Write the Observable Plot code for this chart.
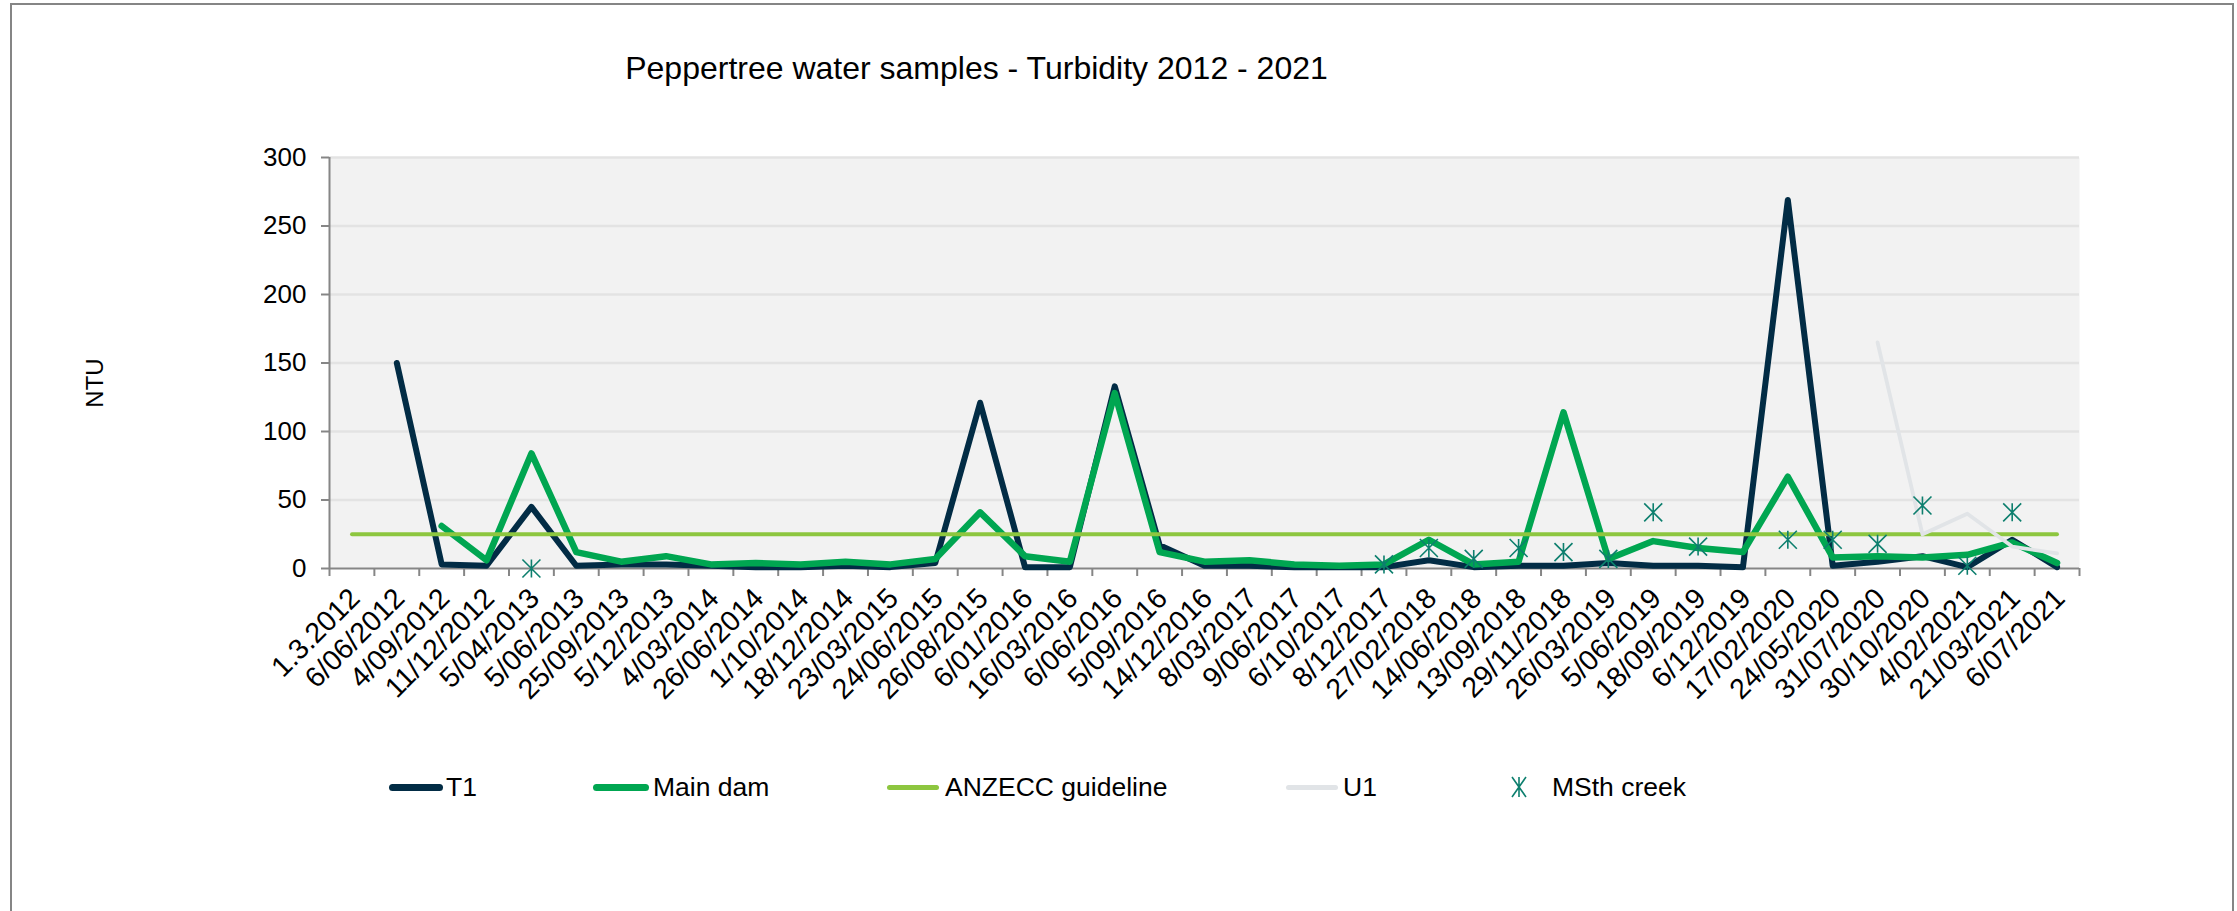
<!DOCTYPE html>
<html><head><meta charset="utf-8">
<script src="https://cdn.jsdelivr.net/npm/d3@7"></script>
<script src="https://cdn.jsdelivr.net/npm/@observablehq/plot@0.6"></script>
<style>
html,body{margin:0;padding:0;background:#fff;}
body{width:2237px;height:911px;overflow:hidden;font-family:"Liberation Sans",Arial,sans-serif;color:#000;}
#wrap{position:relative;width:2237px;height:911px;overflow:hidden;}
#border{position:absolute;left:10px;top:3px;width:2224px;height:1000px;border:2px solid #858585;box-sizing:border-box;}
#title{position:absolute;left:0;top:50px;width:1953px;text-align:center;font-size:32px;line-height:36px;white-space:nowrap;}
#ylab{position:absolute;left:95px;top:383px;transform:translate(-50%,-50%) rotate(-90deg);font-size:24px;line-height:28px;white-space:nowrap;}
#chart{position:absolute;left:0;top:130px;}
.sw{position:absolute;border-radius:4px;}
.lt{position:absolute;top:772px;height:30px;line-height:30px;font-size:26.5px;white-space:nowrap;}
.mk{position:absolute;}
</style></head>
<body>
<div id="wrap">
  <div id="border"></div>
  <div id="title">Peppertree water samples - Turbidity 2012 - 2021</div>
  <div id="ylab">NTU</div>
  <div id="chart"></div>
  <div id="legend"></div>
</div>
<script>
// ---- data ----
const dates = ["1.3.2012","6/06/2012","4/09/2012","11/12/2012","5/04/2013","5/06/2013","25/09/2013","5/12/2013","4/03/2014","26/06/2014","1/10/2014","18/12/2014","23/03/2015","24/06/2015","26/08/2015","6/01/2016","16/03/2016","6/06/2016","5/09/2016","14/12/2016","8/03/2017","9/06/2017","6/10/2017","8/12/2017","27/02/2018","14/06/2018","13/09/2018","29/11/2018","26/03/2019","5/06/2019","18/09/2019","6/12/2019","17/02/2020","24/05/2020","31/07/2020","30/10/2020","4/02/2021","21/03/2021","6/07/2021"];
const t1 = [null,150,3,2,45,2,3,3,2,1,1,2,1,4,121,1,1,133,17,2,2,1,1,1,6,1,2,2,4,2,2,1,269,2,5,9,1,21,1];
const mainDam = [null,null,31,6,84,12,5,9,3,4,3,5,3,7,41,9,5,128,12,5,6,3,2,3,21,3,5,114,7,20,15,12,67,8,9,8,10,19,4];
const anzeccGuideline = [25,25,25,25,25,25,25,25,25,25,25,25,25,25,25,25,25,25,25,25,25,25,25,25,25,25,25,25,25,25,25,25,25,25,25,25,25,25,25];
const u1 = [null,null,null,null,null,null,null,null,null,null,null,null,null,null,null,null,null,null,null,null,null,null,null,null,null,null,null,null,null,null,null,null,null,null,165,25,40,16,11];
const msthCreek = [null,null,null,null,0,null,null,null,null,null,null,null,null,null,null,null,null,null,null,null,null,null,null,3,15,7,15,12,7,41,16,null,21,21,18,46,2,41,null];
const seriesNames = ["T1","Main dam","ANZECC guideline","U1","MSth creek"];
const yTicks = [0,50,100,150,200,250,300];

// ---- styles ----
const colors = {"T1":"#022c45","Main dam":"#00a651","ANZECC guideline":"#8dc63f","U1":"#e1e4e7","MSth creek":"#0d7f6e"};
const widths = {"T1":6,"Main dam":6.5,"ANZECC guideline":3.8,"U1":3.8};

const toRows = arr => arr.map((v,i)=>({i, v: v == null ? NaN : v}));
const idx = dates.map((d,i)=>i);
const bounds = dates.map((d,i)=>i-0.5).concat([dates.length-0.5]);

const asterisk = {
  draw(ctx, size) {
    const r = Math.sqrt(size/Math.PI);
    ctx.moveTo(0,-r); ctx.lineTo(0,r);
    ctx.moveTo(-r,-r); ctx.lineTo(r,r);
    ctx.moveTo(-r,r); ctx.lineTo(r,-r);
  }
};

const lineOpts = name => ({x:"i", y:"v", stroke: colors[name], strokeWidth: widths[name], strokeLinejoin:"round", strokeLinecap:"round"});

const chart = Plot.plot({
  width: 2237, height: 610,
  marginLeft: 329, marginRight: 158, marginTop: 27, marginBottom: 172,
  x: {type:"linear", domain:[-0.5, dates.length-0.5], axis:null},
  y: {domain:[0,300], axis:null},
  style: {fontFamily:'"Liberation Sans", Arial, sans-serif', background:"transparent", overflow:"visible", color:"#000"},
  marks: [
    Plot.frame({fill:"#f2f2f2", stroke:null}),
    Plot.gridY(yTicks.filter(t=>t>0), {stroke:"#e3e3e3", strokeWidth:2.5, strokeOpacity:1}),
    Plot.axisY({ticks:yTicks, tickSize:8, tickFormat:()=>"", stroke:"#868686", strokeWidth:2, label:null}),
    Plot.axisY({ticks:yTicks, tickSize:0, tickPadding:23, fontSize:26, fill:"#000", label:null}),
    Plot.axisX({ticks:bounds, tickSize:8, tickFormat:()=>"", stroke:"#868686", strokeWidth:2, label:null}),
    Plot.axisX({ticks:idx, tickSize:0, tickPadding:25, tickRotate:-45, dx:3, fontSize:28.5, fill:"#000", label:null, tickFormat:i=>dates[i]}),
    Plot.ruleY([0], {stroke:"#868686", strokeWidth:2}),
    Plot.ruleX([-0.5], {stroke:"#868686", strokeWidth:2}),
    Plot.line(toRows(t1), lineOpts("T1")),
    Plot.line(toRows(mainDam), lineOpts("Main dam")),
    Plot.line(toRows(anzeccGuideline), lineOpts("ANZECC guideline")),
    Plot.line(toRows(u1), lineOpts("U1")),
    Plot.dot(toRows(msthCreek).filter(d=>!isNaN(d.v)), {x:"i", y:"v", symbol: asterisk, r:9, stroke: colors["MSth creek"], strokeWidth:1.6, fill:"none"})
  ]
});
document.getElementById("chart").appendChild(chart);

// ---- legend ----
const legendPos = [
  {sw:389, w:54, h:7, tx:446},
  {sw:593, w:56, h:7, tx:653},
  {sw:887, w:52, h:5, tx:945},
  {sw:1286, w:52, h:5, tx:1343},
  {mk:1519, tx:1552}
];
const leg = document.getElementById("legend");
seriesNames.forEach((name,k)=>{
  const p = legendPos[k];
  if (p.mk != null) {
    const ns = "http://www.w3.org/2000/svg";
    const s = document.createElementNS(ns,"svg");
    s.setAttribute("class","mk"); s.setAttribute("width",24); s.setAttribute("height",24);
    s.style.left = (p.mk-12)+"px"; s.style.top = (787-12)+"px";
    const path = document.createElementNS(ns,"path");
    const rx = 7, ry = 10;
    path.setAttribute("d", `M12,${12-ry}L12,${12+ry}M${12-rx},${12-ry}L${12+rx},${12+ry}M${12-rx},${12+ry}L${12+rx},${12-ry}`);
    path.setAttribute("stroke", colors[name]); path.setAttribute("stroke-width", 1.6); path.setAttribute("fill","none");
    s.appendChild(path); leg.appendChild(s);
  } else {
    const d = document.createElement("div");
    d.className = "sw";
    d.style.left = p.sw+"px"; d.style.width = p.w+"px"; d.style.height = p.h+"px";
    d.style.top = (787 - p.h/2)+"px"; d.style.background = colors[name];
    leg.appendChild(d);
  }
  const t = document.createElement("div");
  t.className = "lt"; t.style.left = p.tx+"px"; t.textContent = name;
  leg.appendChild(t);
});
</script>
</body></html>
